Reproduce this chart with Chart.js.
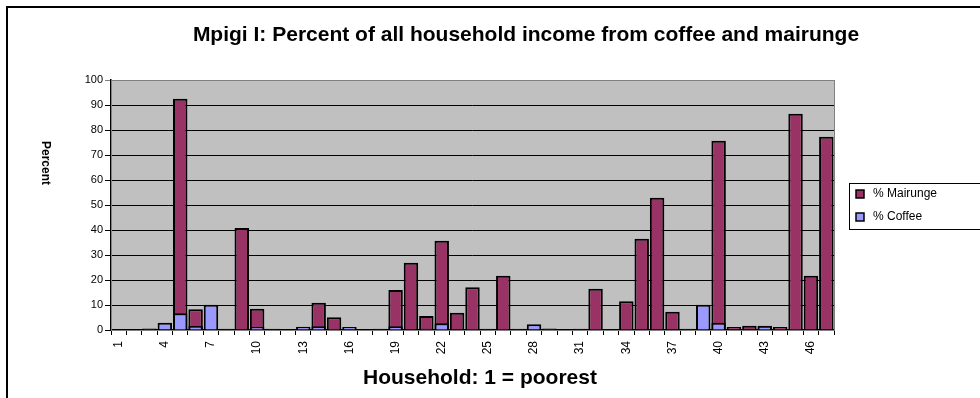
<!DOCTYPE html>
<html>
<head>
<meta charset="utf-8">
<script src="https://cdn.jsdelivr.net/npm/chart.js@4"></script>
<style>
  html, body { margin: 0; padding: 0; background: #fff; }
  #wrap { width: 980px; height: 398px; position: relative; }
</style>
</head>
<body>
<div id="wrap"><canvas id="chart"></canvas></div>
<script>
const households = ['1','2','3','4','5','6','7','8','9','10','11','12','13','14','15','16',
    '17','18','19','20','21','22','23','24','25','26','27','28','29','30','31','32',
    '33','34','35','36','37','38','39','40','41','42','43','44','45','46','47'];

const mairunge = [0, 0, 0.6, 0, 92.5, 8.3, 0, 0.5, 40.8, 8.5, 0.5, 0, 0.4, 10.9, 5.1, 0.3,
    0, 0.5, 16, 26.9, 5.6, 35.7, 6.9, 17.1, 0.5, 21.7, 0.5, 0.3, 0.6, 0, 0.5, 16.5,
    0, 11.5, 36.5, 52.9, 7.3, 0.5, 0.5, 75.7, 1.2, 1.7, 1.5, 1.2, 86.5, 21.7, 77.3];

const coffee = [0, 0, 0, 2.9, 6.7, 1.6, 10.1, 0, 0, 1.2, 0, 0, 1.3, 1.5, 0.4, 1.2,
    0, 0, 1.5, 0, 0.5, 2.7, 0, 0.4, 0, 0.4, 0, 2.3, 0, 0, 0.3, 0.4,
    0, 0.4, 0.3, 0.3, 0, 0, 10.1, 2.9, 0, 0, 1.7, 0.4, 0.4, 0, 0];

const titleText = 'Mpigi I: Percent of all household income from coffee and mairunge';
const xTitle = 'Household: 1 = poorest';
const yTitle = 'Percent';

const FONT = 'Arial, "Liberation Sans", sans-serif';

// plot background, frame, titles and legend box (Excel look)
const decor = {
    id: 'decor',
    beforeDraw(chart) {
        const { ctx, chartArea: a } = chart;
        ctx.save();
        ctx.fillStyle = '#fff';
        ctx.fillRect(0, 0, chart.width, chart.height);
        ctx.fillStyle = '#C0C0C0';
        ctx.fillRect(a.left, a.top, a.right - a.left, a.bottom - a.top);
        ctx.restore();
    },
    beforeDatasetsDraw(chart) {
        const { ctx, chartArea: a } = chart;
        ctx.save();
        ctx.strokeStyle = '#808080';
        ctx.lineWidth = 1;
        ctx.strokeRect(a.left + 0.5, a.top + 0.5, a.right - a.left, a.bottom - a.top);
        ctx.restore();
    },
    afterDraw(chart) {
        const { ctx } = chart;
        ctx.save();
        // outer chart border
        ctx.strokeStyle = '#000';
        ctx.lineWidth = 2;
        ctx.beginPath();
        ctx.moveTo(7, 400);
        ctx.lineTo(7, 7);
        ctx.lineTo(990, 7);
        ctx.stroke();

        ctx.fillStyle = '#000';
        ctx.textAlign = 'center';
        ctx.textBaseline = 'middle';
        ctx.font = 'bold 21px ' + FONT;
        ctx.fillText(titleText, 526, 35);
        ctx.fillText(xTitle, 480, 378);

        ctx.save();
        ctx.translate(45, 163);
        ctx.rotate(Math.PI / 2);
        ctx.font = 'bold 12px ' + FONT;
        ctx.fillText(yTitle, 0, 0);
        ctx.restore();

        // legend
        ctx.lineWidth = 1;
        ctx.strokeStyle = '#000';
        ctx.strokeRect(849.5, 183.5, 140, 46);
        ctx.font = '12px ' + FONT;
        ctx.textAlign = 'left';
        chart.data.datasets.forEach((ds, i) => {
            const y = 194 + i * 23;
            ctx.fillStyle = ds.backgroundColor;
            ctx.fillRect(856, y - 4, 8, 8);
            ctx.lineWidth = 1.5;
            ctx.strokeRect(856, y - 4, 8, 8);
            ctx.fillStyle = '#000';
            ctx.fillText(ds.label, 873, y);
        });
        ctx.restore();
    }
};

new Chart(document.getElementById('chart'), {
    type: 'bar',
    data: {
        labels: households,
        datasets: [
            {
                label: '% Mairunge',
                data: mairunge,
                backgroundColor: '#993366',
                borderColor: '#000',
                borderWidth: 2,
                order: 1
            },
            {
                label: '% Coffee',
                data: coffee,
                backgroundColor: '#9999FF',
                borderColor: '#000',
                borderWidth: 2,
                order: 0
            }
        ]
    },
    options: {
        responsive: true,
        maintainAspectRatio: false,
        animation: false,
        layout: { padding: { top: 80, left: 0, right: 146, bottom: 0 } },
        datasets: {
            bar: {
                grouped: false,
                categoryPercentage: 1,
                barPercentage: 0.94
            }
        },
        plugins: {
            legend: { display: false },
            title: { display: false },
            tooltip: { enabled: false }
        },
        scales: {
            x: {
                afterFit(scale) { scale.height = 68; },
                grid: {
                    offset: true,
                    drawOnChartArea: false,
                    drawTicks: true,
                    tickLength: 5,
                    color: '#000'
                },
                border: { color: '#000', width: 1.5 },
                ticks: {
                    autoSkip: false,
                    minRotation: 90,
                    maxRotation: 90,
                    padding: 6,
                    color: '#000',
                    font: { family: FONT, size: 12 },
                    callback(v, i) { return i % 3 === 0 ? households[i] : ''; }
                }
            },
            y: {
                min: 0,
                max: 100,
                afterFit(scale) { scale.width = 111; },
                grid: {
                    color: ctx => (ctx.tick && ctx.tick.value === 100) ? '#808080' : '#000',
                    lineWidth: 1,
                    tickLength: 6
                },
                border: { color: '#000', width: 1.5 },
                ticks: {
                    stepSize: 10,
                    padding: 2,
                    color: '#000',
                    font: { family: FONT, size: 11 }
                }
            }
        }
    },
    plugins: [decor]
});
</script>
</body>
</html>
